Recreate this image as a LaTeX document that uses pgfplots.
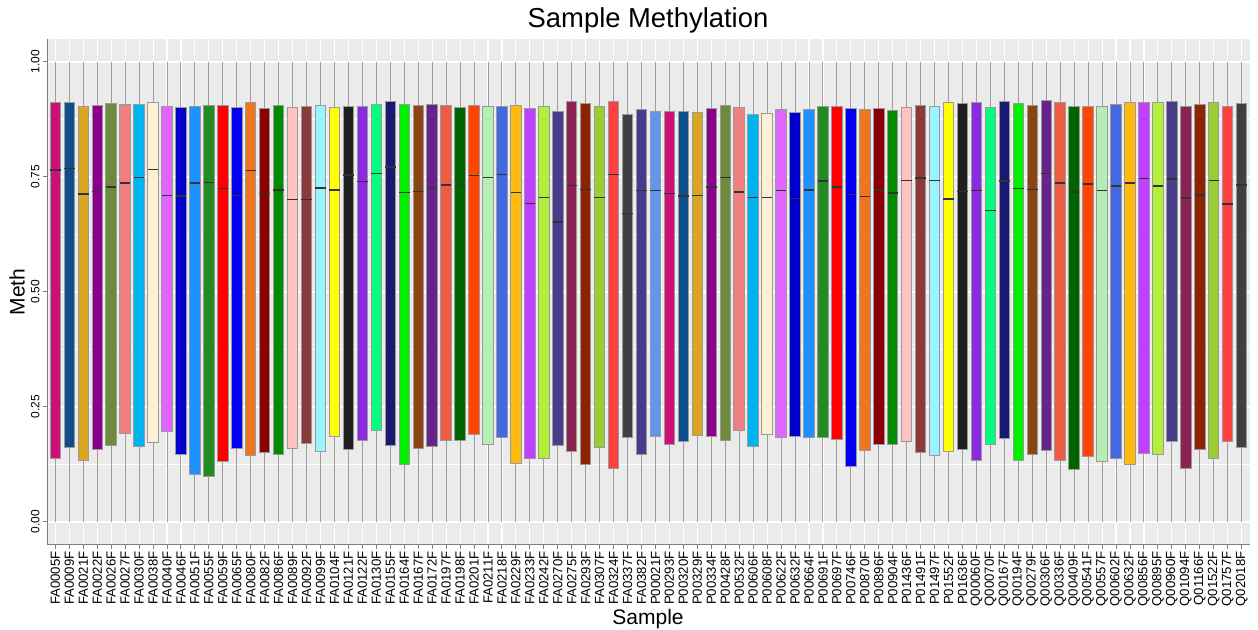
\documentclass[border=0pt]{standalone}
\usepackage{fontspec}
\setmainfont{Liberation Sans}
\usepackage{pgfplots}
\pgfplotsset{compat=1.18}
\usepgfplotslibrary{statistics}
\definecolor{c0}{HTML}{CD1076}
\definecolor{c1}{HTML}{104E8B}
\definecolor{c2}{HTML}{DAA520}
\definecolor{c3}{HTML}{8B008B}
\definecolor{c4}{HTML}{6E8B3D}
\definecolor{c5}{HTML}{F08080}
\definecolor{c6}{HTML}{00B2EE}
\definecolor{c7}{HTML}{FFEFD5}
\definecolor{c8}{HTML}{E066FF}
\definecolor{c9}{HTML}{0000CD}
\definecolor{c10}{HTML}{1E90FF}
\definecolor{c11}{HTML}{228B22}
\definecolor{c12}{HTML}{FF0000}
\definecolor{c13}{HTML}{0000EE}
\definecolor{c14}{HTML}{EE7621}
\definecolor{c15}{HTML}{8B0000}
\definecolor{c16}{HTML}{008B00}
\definecolor{c17}{HTML}{FFC1C1}
\definecolor{c18}{HTML}{8B3A3A}
\definecolor{c19}{HTML}{98F5FF}
\definecolor{c20}{HTML}{FFFF00}
\definecolor{c21}{HTML}{1F1F1F}
\definecolor{c22}{HTML}{8A2BE2}
\definecolor{c23}{HTML}{00FF7F}
\definecolor{c24}{HTML}{191970}
\definecolor{c25}{HTML}{00EE00}
\definecolor{c26}{HTML}{8B4513}
\definecolor{c27}{HTML}{68228B}
\definecolor{c28}{HTML}{EE5C42}
\definecolor{c29}{HTML}{006400}
\definecolor{c30}{HTML}{FF4500}
\definecolor{c31}{HTML}{B4EEB4}
\definecolor{c32}{HTML}{4169E1}
\definecolor{c33}{HTML}{FFB90F}
\definecolor{c34}{HTML}{BF3EFF}
\definecolor{c35}{HTML}{B3EE3A}
\definecolor{c36}{HTML}{483D8B}
\definecolor{c37}{HTML}{8B2252}
\definecolor{c38}{HTML}{8B2500}
\definecolor{c39}{HTML}{9ACD32}
\definecolor{c40}{HTML}{FF4040}
\definecolor{c41}{HTML}{404040}
\definecolor{c42}{HTML}{473C8B}
\definecolor{c43}{HTML}{6495ED}
\definecolor{panelgray}{HTML}{EBEBEB}
\definecolor{boxgray}{HTML}{9A9A9A}
\definecolor{whiskgray}{HTML}{9E9E9E}
\definecolor{medgray}{HTML}{333333}
\definecolor{axisgray}{HTML}{7F7F7F}
% draw position, lower quartile, median, upper quartile, colour
\newcommand{\bp}[5]{\addplot[boxplot prepared={draw position=#1, lower whisker=0, lower quartile=#2, median=#3, upper quartile=#4, upper whisker=1}, fill=#5, draw=boxgray, line width=0.5pt] coordinates {};}
\begin{document}
\begin{tikzpicture}
\useasboundingbox (0,0) rectangle (629pt,315pt);
\begin{axis}[
  at={(23.5pt,42.5pt)}, anchor=south west, scale only axis,
  width=601.5pt, height=253pt,
  xmin=-0.6, xmax=85.6, ymin=-0.05, ymax=1.05,
  axis background/.style={fill=panelgray},
  axis lines*=left, axis line style={draw=axisgray, line width=0.5pt},
  xtick={0,...,85},
  xticklabels={FA0005F,FA0009F,FA0021F,FA0022F,FA0026F,FA0027F,FA0030F,FA0038F,FA0040F,FA0046F,FA0051F,FA0055F,FA0059F,FA0065F,FA0080F,FA0082F,FA0086F,FA0089F,FA0092F,FA0099F,FA0104F,FA0121F,FA0122F,FA0130F,FA0155F,FA0164F,FA0167F,FA0172F,FA0197F,FA0198F,FA0201F,FA0211F,FA0218F,FA0229F,FA0233F,FA0242F,FA0270F,FA0275F,FA0293F,FA0307F,FA0324F,FA0337F,FA0382F,P00021F,P00293F,P00320F,P00329F,P00334F,P00428F,P00532F,P00606F,P00608F,P00622F,P00632F,P00664F,P00691F,P00697F,P00746F,P00870F,P00896F,P00904F,P01436F,P01491F,P01497F,P01552F,P01636F,Q00060F,Q00070F,Q00167F,Q00194F,Q00279F,Q00306F,Q00336F,Q00409F,Q00541F,Q00557F,Q00602F,Q00632F,Q00856F,Q00895F,Q00960F,Q01094F,Q01166F,Q01522F,Q01757F,Q02018F},
  ytick={0,0.25,0.5,0.75,1}, yticklabels={0.00,0.25,0.50,0.75,1.00},
  minor ytick={0.125,0.375,0.625,0.875},
  grid=both, major grid style={white, line width=0.55pt}, minor grid style={white, line width=0.3pt},
  tick align=outside, major tick length=2pt, minor tick length=0pt,
  tick style={draw=axisgray, line width=0.5pt},
  x tick label style={rotate=90, anchor=east, font=\fontsize{6.6}{7}\selectfont, inner sep=1pt},
  y tick label style={rotate=90, anchor=south, font=\fontsize{6}{7}\selectfont, inner sep=1.5pt},
  boxplot/draw direction=y, boxplot/box extend=0.75, boxplot/whisker extend=0,
  boxplot/every whisker/.style={draw=whiskgray, line width=0.5pt},
  boxplot/every median/.style={draw=medgray, line width=0.7pt},
]
\bp{0}{0.139}{0.765}{0.912}{c0}
\bp{1}{0.162}{0.768}{0.912}{c1}
\bp{2}{0.133}{0.713}{0.904}{c2}
\bp{3}{0.157}{0.719}{0.906}{c3}
\bp{4}{0.167}{0.728}{0.910}{c4}
\bp{5}{0.193}{0.737}{0.908}{c5}
\bp{6}{0.164}{0.749}{0.907}{c6}
\bp{7}{0.172}{0.766}{0.912}{c7}
\bp{8}{0.196}{0.710}{0.903}{c8}
\bp{9}{0.147}{0.709}{0.900}{c9}
\bp{10}{0.104}{0.737}{0.904}{c10}
\bp{11}{0.098}{0.738}{0.905}{c11}
\bp{12}{0.132}{0.725}{0.906}{c12}
\bp{13}{0.159}{0.710}{0.902}{c13}
\bp{14}{0.145}{0.764}{0.913}{c14}
\bp{15}{0.152}{0.714}{0.899}{c15}
\bp{16}{0.146}{0.722}{0.906}{c16}
\bp{17}{0.159}{0.701}{0.901}{c17}
\bp{18}{0.170}{0.701}{0.903}{c18}
\bp{19}{0.154}{0.726}{0.906}{c19}
\bp{20}{0.186}{0.722}{0.902}{c20}
\bp{21}{0.157}{0.754}{0.904}{c21}
\bp{22}{0.178}{0.740}{0.904}{c22}
\bp{23}{0.199}{0.757}{0.908}{c23}
\bp{24}{0.167}{0.772}{0.915}{c24}
\bp{25}{0.125}{0.716}{0.908}{c25}
\bp{26}{0.160}{0.719}{0.905}{c26}
\bp{27}{0.165}{0.725}{0.907}{c27}
\bp{28}{0.178}{0.733}{0.906}{c28}
\bp{29}{0.177}{0.732}{0.902}{c29}
\bp{30}{0.190}{0.753}{0.906}{c30}
\bp{31}{0.169}{0.749}{0.904}{c31}
\bp{32}{0.183}{0.756}{0.904}{c32}
\bp{33}{0.128}{0.716}{0.906}{c33}
\bp{34}{0.137}{0.693}{0.899}{c34}
\bp{35}{0.137}{0.706}{0.904}{c35}
\bp{36}{0.167}{0.652}{0.893}{c36}
\bp{37}{0.153}{0.732}{0.914}{c37}
\bp{38}{0.125}{0.723}{0.909}{c38}
\bp{39}{0.162}{0.706}{0.903}{c39}
\bp{40}{0.117}{0.755}{0.914}{c40}
\bp{41}{0.183}{0.670}{0.886}{c41}
\bp{42}{0.146}{0.720}{0.896}{c42}
\bp{43}{0.186}{0.720}{0.893}{c43}
\bp{44}{0.169}{0.714}{0.893}{c0}
\bp{45}{0.174}{0.709}{0.893}{c1}
\bp{46}{0.187}{0.710}{0.890}{c2}
\bp{47}{0.186}{0.728}{0.899}{c3}
\bp{48}{0.177}{0.749}{0.906}{c4}
\bp{49}{0.199}{0.717}{0.900}{c5}
\bp{50}{0.164}{0.705}{0.886}{c6}
\bp{51}{0.191}{0.705}{0.888}{c7}
\bp{52}{0.184}{0.721}{0.896}{c8}
\bp{53}{0.185}{0.703}{0.891}{c9}
\bp{54}{0.183}{0.722}{0.896}{c10}
\bp{55}{0.183}{0.741}{0.903}{c11}
\bp{56}{0.180}{0.728}{0.903}{c12}
\bp{57}{0.120}{0.712}{0.899}{c13}
\bp{58}{0.156}{0.707}{0.896}{c14}
\bp{59}{0.169}{0.722}{0.899}{c15}
\bp{60}{0.168}{0.715}{0.894}{c16}
\bp{61}{0.176}{0.742}{0.901}{c17}
\bp{62}{0.152}{0.748}{0.906}{c18}
\bp{63}{0.145}{0.743}{0.904}{c19}
\bp{64}{0.154}{0.702}{0.913}{c20}
\bp{65}{0.157}{0.718}{0.910}{c21}
\bp{66}{0.133}{0.721}{0.912}{c22}
\bp{67}{0.169}{0.677}{0.901}{c23}
\bp{68}{0.181}{0.741}{0.914}{c24}
\bp{69}{0.134}{0.725}{0.909}{c25}
\bp{70}{0.147}{0.723}{0.906}{c26}
\bp{71}{0.156}{0.757}{0.916}{c27}
\bp{72}{0.133}{0.737}{0.912}{c28}
\bp{73}{0.114}{0.717}{0.904}{c29}
\bp{74}{0.143}{0.735}{0.904}{c30}
\bp{75}{0.131}{0.720}{0.904}{c31}
\bp{76}{0.137}{0.730}{0.908}{c32}
\bp{77}{0.125}{0.737}{0.913}{c33}
\bp{78}{0.149}{0.747}{0.912}{c34}
\bp{79}{0.146}{0.730}{0.911}{c35}
\bp{80}{0.175}{0.746}{0.914}{c36}
\bp{81}{0.116}{0.704}{0.903}{c37}
\bp{82}{0.157}{0.711}{0.907}{c38}
\bp{83}{0.138}{0.742}{0.912}{c39}
\bp{84}{0.175}{0.691}{0.904}{c40}
\bp{85}{0.163}{0.733}{0.909}{c41}
\end{axis}
\node[font=\fontsize{13.7}{16}\selectfont] at (324pt,305pt) {Sample Methylation};
\node[font=\fontsize{10.5}{12}\selectfont] at (324pt,5.5pt) {Sample};
\node[font=\fontsize{10.5}{12}\selectfont, rotate=90] at (8.5pt,169pt) {Meth};
\end{tikzpicture}
\end{document}
